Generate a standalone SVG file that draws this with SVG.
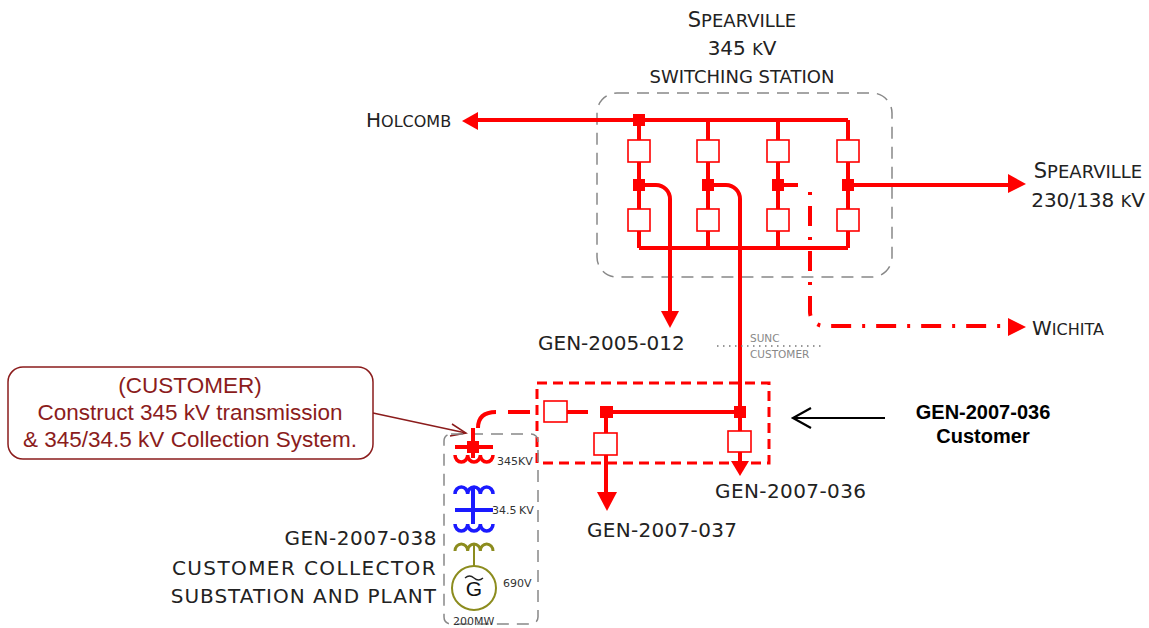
<svg xmlns="http://www.w3.org/2000/svg" width="1149" height="628" viewBox="0 0 1149 628">
<defs>
<style>
.t{font-family:"DejaVu Sans","Liberation Sans",sans-serif;fill:#222;}
.big{font-size:20px;}
.red{stroke:#FF0000;stroke-width:4;fill:none;}
.brk{fill:#fff;stroke:#FF0000;stroke-width:1.6;}
.jn{fill:#FF0000;}
.gbox{fill:none;stroke:#888;stroke-width:1.5;stroke-dasharray:12 8;}
.mar{fill:#8B1C1C;font-family:"Liberation Sans",Arial,sans-serif;font-size:22.5px;}
.tiny{font-family:"DejaVu Sans","Liberation Sans",sans-serif;font-size:11px;fill:#333;}
.bl{font-family:"Liberation Sans",Arial,sans-serif;font-weight:bold;font-size:20px;fill:#000;}
</style>
</defs>

<g id="station">
<rect class="gbox" x="597" y="93" width="295" height="184" rx="20"/>
<text class="t" x="742" y="27" text-anchor="middle"><tspan font-size="21">S</tspan><tspan font-size="18">PEARVILLE</tspan></text>
<text class="t" x="742" y="55" text-anchor="middle"><tspan font-size="20">345 </tspan><tspan font-size="16">K</tspan><tspan font-size="20">V</tspan></text>
<text class="t" x="742" y="83" text-anchor="middle" font-size="18">SWITCHING STATION</text>
</g>

<g id="connectors">
<path class="red" d="M848,120 H478"/>
<path class="red" d="M639,248 H848"/>
<path class="red" d="M639,120 V248 M708,120 V248 M778,120 V248 M848,120 V248"/>
<path d="M478,112 L462,121 L478,130 Z" fill="#FF0000"/>
<path class="red" d="M639,185 H656 A14,14 0 0 1 670,199 V312"/>
<path d="M661,311 L670,328 L679,311 Z" fill="#FF0000"/>
<path class="red" d="M708,185 H726 A14,14 0 0 1 740,199 V462"/>
<path class="red" d="M778,185 H798"/>
<path class="red" d="M810,192 V312 A14,14 0 0 0 824,326 H1010" stroke-dasharray="3 11 20 11"/>
<path d="M1008,318 L1026,327 L1008,336 Z" fill="#FF0000"/>
<path class="red" d="M848,185 H1008"/>
<path d="M1008,174 L1026,184 L1008,193 Z" fill="#FF0000"/>
<path class="red" d="M606,412 H740"/>
<path class="red" d="M478,428 Q478,412 496,412"/>
<path class="red" d="M508,412 H530 M555,412 H588"/>
<path class="red" d="M606,412 V494"/>
<path d="M597,492 L607,511 L617,492 Z" fill="#FF0000"/>
<path d="M731,461 L740,476 L749,461 Z" fill="#FF0000"/>
<path d="M717,346 H822" stroke="#777" stroke-width="1.5" stroke-dasharray="1.5 4.5" fill="none"/>
<path d="M373,413 L466,433" stroke="#8B1C1C" stroke-width="1.5" fill="none"/>
<path d="M452,424 L466,433 L450,436" stroke="#8B1C1C" stroke-width="1.5" fill="none"/>
<path d="M885,418 H793 M811,408 L793,418 L811,428" stroke="#000" stroke-width="2.2" fill="none"/>
</g>

<g id="breakers">
<rect class="brk" x="628" y="140" width="22" height="22"/>
<rect class="brk" x="697" y="140" width="22" height="22"/>
<rect class="brk" x="767" y="140" width="22" height="22"/>
<rect class="brk" x="837" y="140" width="22" height="22"/>
<rect class="brk" x="628" y="209" width="22" height="22"/>
<rect class="brk" x="697" y="209" width="22" height="22"/>
<rect class="brk" x="767" y="209" width="22" height="22"/>
<rect class="brk" x="837" y="209" width="22" height="22"/>
<rect class="brk" x="544" y="401" width="23" height="21"/>
<rect class="brk" x="594" y="433" width="23" height="22"/>
<rect class="brk" x="728" y="431" width="23" height="21"/>
</g>

<g id="junctions">
<rect class="jn" x="633" y="114" width="12" height="12"/>
<rect class="jn" x="633" y="179" width="12" height="12"/>
<rect class="jn" x="702" y="179" width="12" height="12"/>
<rect class="jn" x="772" y="179" width="12" height="12"/>
<rect class="jn" x="842" y="179" width="12" height="12"/>
<rect class="jn" x="600" y="406" width="13" height="12"/>
<rect class="jn" x="734" y="406" width="12" height="12"/>
</g>

<g id="customer-box">
<rect x="537" y="383" width="232" height="80" fill="none" stroke="#FF0000" stroke-width="3" stroke-dasharray="10 6"/>
</g>

<g id="labels">
<text class="t" x="366" y="127"><tspan font-size="20">H</tspan><tspan font-size="16">OLCOMB</tspan></text>
<text class="t" x="1088" y="178" text-anchor="middle"><tspan font-size="21">S</tspan><tspan font-size="18">PEARVILLE</tspan></text>
<text class="t" x="1088" y="207" text-anchor="middle"><tspan font-size="20">230/138 </tspan><tspan font-size="16">K</tspan><tspan font-size="20">V</tspan></text>
<text class="t" x="1032" y="335"><tspan font-size="20">W</tspan><tspan font-size="16">ICHITA</tspan></text>
<text class="t big" x="538" y="350">GEN-2005-012</text>
<text x="750" y="342" font-family="DejaVu Sans,sans-serif" font-size="10.5" fill="#888">SUNC</text>
<text x="750" y="358" font-family="DejaVu Sans,sans-serif" font-size="10.5" fill="#888">CUSTOMER</text>
<text class="t big" x="715" y="498" letter-spacing="0.4">GEN-2007-036</text>
<text class="t big" x="587" y="537" letter-spacing="0.3">GEN-2007-037</text>
<text class="t big" x="437" y="545" text-anchor="end" letter-spacing="0.5">GEN-2007-038</text>
<text class="t big" x="437" y="575" text-anchor="end" letter-spacing="1.4">CUSTOMER COLLECTOR</text>
<text class="t big" x="437" y="603" text-anchor="end" letter-spacing="1">SUBSTATION AND PLANT</text>
<text class="bl" x="983" y="419" text-anchor="middle">GEN-2007-036</text>
<text class="bl" x="983" y="443" text-anchor="middle">Customer</text>
</g>

<g id="callout">
<rect x="8" y="367" width="365" height="92" rx="15" fill="#fff" stroke="#8B1C1C" stroke-width="1.5"/>
<text class="mar" x="190" y="393" text-anchor="middle">(CUSTOMER)</text>
<text class="mar" x="190" y="420" text-anchor="middle">Construct 345 kV transmission</text>
<text class="mar" x="190" y="447" text-anchor="middle">&amp; 345/34.5 kV Collection System.</text>
</g>

<g id="collector">
<rect class="gbox" x="444" y="434" width="94" height="190" rx="7" stroke-width="1.2" stroke-dasharray="6 4"/>
<path d="M473,428 V458 M455,447 H493" stroke="#FF0000" stroke-width="4" fill="none"/>
<rect x="467" y="441" width="12" height="12" fill="#FF0000"/>
<path d="M455,455 a6.33,7 0 0 0 12.67,0 a6.33,7 0 0 0 12.67,0 a6.33,7 0 0 0 12.67,0" stroke="#FF0000" stroke-width="3.5" fill="none"/>
<path d="M455,494 a6.33,7 0 0 1 12.67,0 a6.33,7 0 0 1 12.67,0 a6.33,7 0 0 1 12.67,0" stroke="#1a1aff" stroke-width="3.5" fill="none"/>
<path d="M473,488 V524 M455,510 H493" stroke="#1a1aff" stroke-width="4" fill="none"/>
<path d="M455,524 a6.33,7 0 0 0 12.67,0 a6.33,7 0 0 0 12.67,0 a6.33,7 0 0 0 12.67,0" stroke="#1a1aff" stroke-width="3.5" fill="none"/>
<path d="M455,551 a6.33,7 0 0 1 12.67,0 a6.33,7 0 0 1 12.67,0 a6.33,7 0 0 1 12.67,0" stroke="#8c8c1e" stroke-width="3" fill="none"/>
<path d="M474,545 V566" stroke="#8c8c1e" stroke-width="2" fill="none"/>
<circle cx="474" cy="588" r="22" fill="#fff" stroke="#8c8c1e" stroke-width="2"/>
<path d="M465,578 q4.5,-4 9,0 t9,0" stroke="#222" stroke-width="1.3" fill="none"/>
<text x="474" y="596" text-anchor="middle" font-family="Liberation Sans,Arial,sans-serif" font-size="21" fill="#111">G</text>
<text class="tiny" x="497" y="465">345</text><text class="tiny" x="518" y="465" font-size="9">KV</text>
<text class="tiny" x="492" y="514">34.5</text><text class="tiny" x="519" y="514" font-size="9">KV</text>
<text class="tiny" x="503" y="587" font-size="12">690V</text>
<text class="tiny" x="453" y="625" font-size="12">200MW</text>
</g>
</svg>
